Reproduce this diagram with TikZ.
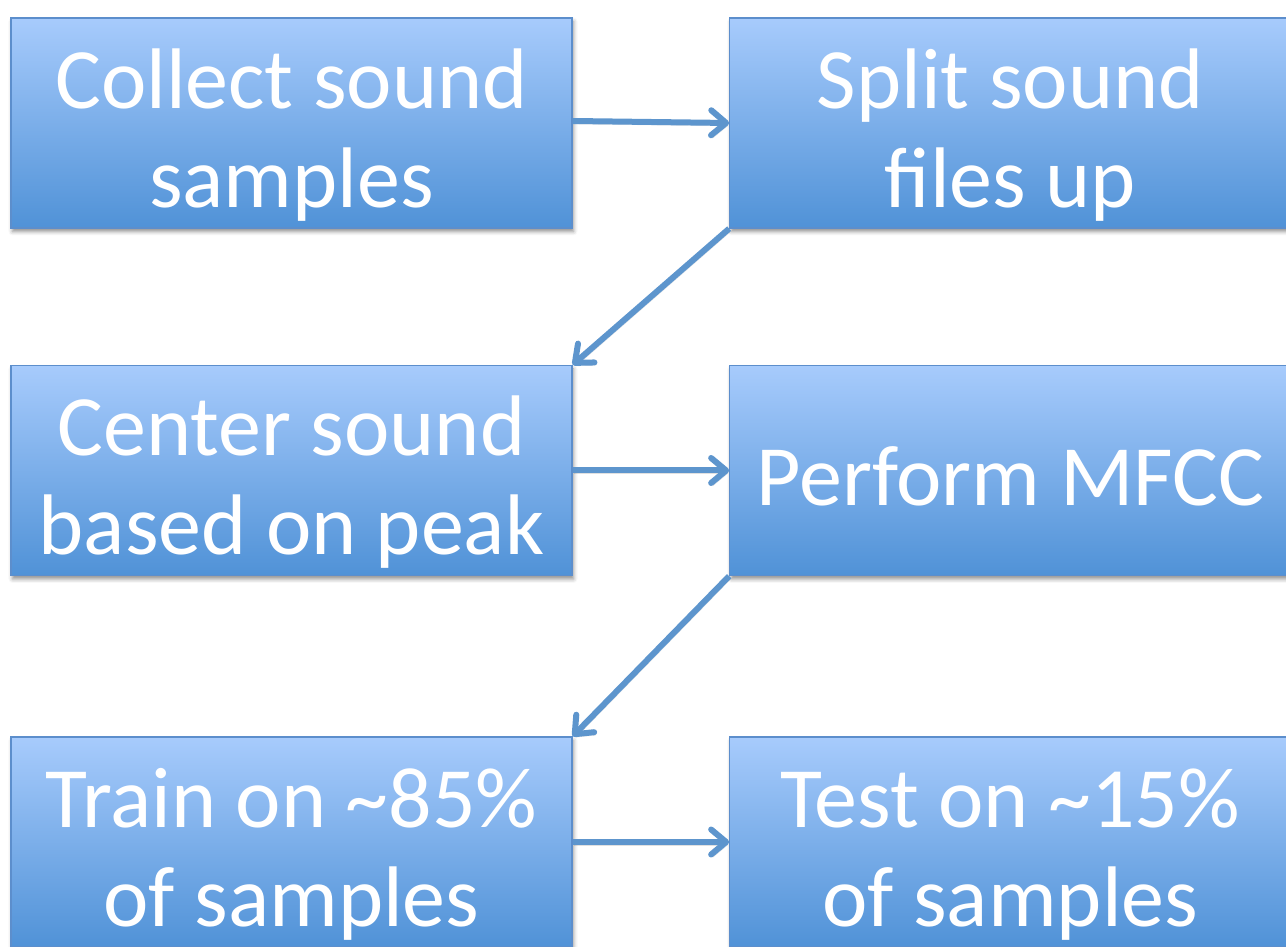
\documentclass[tikz,border=0pt]{standalone}
\usepackage{fontspec}
\setmainfont{Carlito}
\usetikzlibrary{arrows.meta,shadows.blur}

\definecolor{boxtop}{RGB}{167,203,252}
\definecolor{boxbot}{RGB}{80,146,215}
\definecolor{boxline}{RGB}{92,142,204}
\definecolor{flow}{RGB}{93,149,205}

\newcommand\stepfont{\fontsize{86}{99}\selectfont}
% struts fix the height of the first line and the depth of the last
\newcommand\topstrut{\rule{0pt}{88pt}}
\newcommand\botstrut{\rule[-18pt]{0pt}{18pt}}

\tikzset{
  stepbox/.style={rectangle, draw=boxline, line width=1.3pt,
    top color=boxtop, bottom color=boxbot,
    minimum width=561pt, minimum height=210pt, inner sep=0pt,
    blur shadow={shadow xshift=1.5pt, shadow yshift=-3.5pt,
      shadow blur radius=4pt, shadow opacity=45},
    text=white, font=\stepfont, align=center},
  flowarrow/.style={draw=flow, line width=6pt,
    -{Straight Barb[length=15pt, width=25pt, round]},
    preaction={draw=black, draw opacity=0.12,
      transform canvas={xshift=1.5pt, yshift=-3pt}}},
}

\begin{document}
\begin{tikzpicture}[x=1pt, y=1pt]
  \useasboundingbox (0,0) rectangle (1286,946);
  \clip (0,0) rectangle (1286,946);

  % process steps, two columns of three rows
  \node[stepbox] (collect) at (291.5,823)  {\topstrut Collect sound\\samples\botstrut};
  \node[stepbox] (split)   at (1010.3,823) {\topstrut Split sound\\files up\botstrut};
  \node[stepbox] (center)  at (291.5,475.5) {\topstrut Center sound\\based on peak\botstrut};
  \node[stepbox] (mfcc)    at (1010.3,475.5) {\topstrut Perform MFCC\botstrut};
  \node[stepbox] (train)   at (291.5,104)  {\topstrut Train on \textasciitilde 85\%\\of samples\botstrut};
  \node[stepbox] (test)    at (1010.3,104) {\topstrut Test on \textasciitilde 15\%\\of samples\botstrut};

  % connectors
  \draw[flowarrow] ([yshift=2pt]collect.east) -- (split.west);
  \draw[flowarrow] (split.south west) -- (center.north east);
  \draw[flowarrow] (center.east) -- (mfcc.west);
  \draw[flowarrow] (mfcc.south west) -- (train.north east);
  \draw[flowarrow] (train.east) -- (test.west);
\end{tikzpicture}
\end{document}
